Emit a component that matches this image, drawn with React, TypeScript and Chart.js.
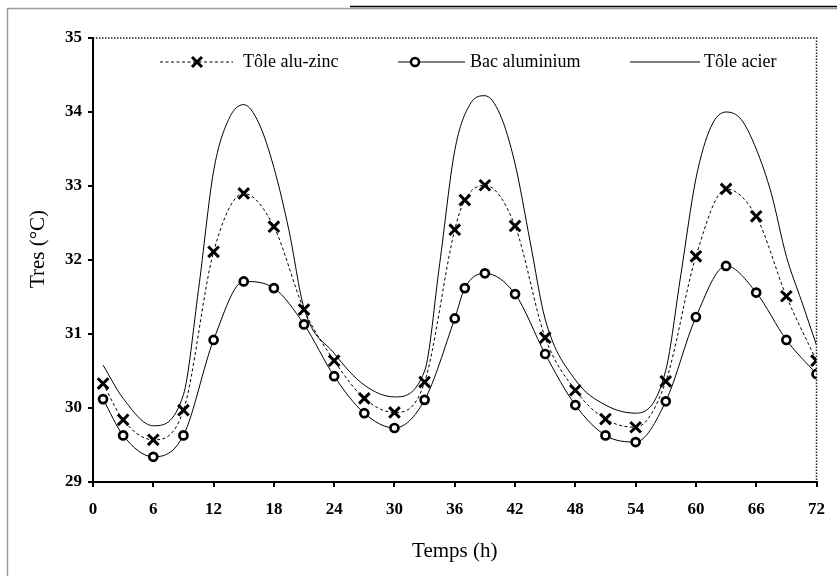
import React, { useEffect, useRef } from 'react';
import { Chart, registerables } from 'chart.js';

Chart.register(...registerables);

// ---- data ----
const markedHours = [1, 3, 6, 9, 12, 15, 18, 21, 24, 27, 30, 33, 36, 37, 39, 42, 45, 48, 51, 54, 57, 60, 63, 66, 69, 72];
const aluZinc = [30.33, 29.84, 29.57, 29.97, 32.11, 32.9, 32.45, 31.33, 30.64, 30.13, 29.94, 30.35, 32.41, 32.81, 33.01, 32.46, 30.95, 30.24, 29.85, 29.74, 30.36, 32.05, 32.96, 32.59, 31.51, 30.64];
const bacAlu = [30.12, 29.63, 29.34, 29.63, 30.92, 31.71, 31.62, 31.13, 30.43, 29.93, 29.73, 30.11, 31.21, 31.62, 31.82, 31.54, 30.73, 30.04, 29.63, 29.54, 30.09, 31.23, 31.92, 31.56, 30.92, 30.46];
const acierHours = [1, 3, 6, 9, 10.5, 12, 13.5, 15, 16.5, 18, 19.5, 21, 24, 27, 30, 33, 34.5, 36, 37.5, 39, 40.5, 42, 43.5, 45, 48, 51, 54, 57, 58.5, 60, 61.5, 63, 64.5, 66, 67.5, 69, 70.5, 72];
const acier = [30.58, 30.13, 29.76, 30.18, 31.6, 33.2, 33.9, 34.1, 33.85, 33.25, 32.4, 31.35, 30.74, 30.31, 30.15, 30.5, 31.95, 33.48, 34.1, 34.22, 33.97, 33.3, 32.25, 31.2, 30.38, 30.04, 29.93, 30.51, 31.8, 33.1, 33.8, 34.0, 33.9, 33.5, 32.9, 32.05, 31.45, 30.85];

const seriesNames = ['Tôle alu-zinc', 'Bac aluminium', 'Tôle acier'];
const xTitle = 'Temps (h)';
const yTitle = 'Tres (°C)';
const xMin = 0;
const xMax = 72;
const xStep = 6;
const yMin = 29;
const yMax = 35;
const yStep = 1;

const FONT = '"Liberation Serif", "Times New Roman", serif';

const drawX = (ctx: CanvasRenderingContext2D, x: number, y: number, h: number) => {
  ctx.beginPath();
  ctx.moveTo(x - h, y - h);
  ctx.lineTo(x + h, y + h);
  ctx.moveTo(x + h, y - h);
  ctx.lineTo(x - h, y + h);
  ctx.stroke();
};

const decorPlugin = {
  id: 'decor',
  beforeDraw(chart: any) {
    const { ctx, width, height } = chart;
    ctx.save();
    ctx.fillStyle = '#fff';
    ctx.fillRect(0, 0, width, height);
    // outer frame (page figure box)
    ctx.strokeStyle = '#9a9a9a';
    ctx.lineWidth = 1.5;
    ctx.beginPath();
    ctx.moveTo(7.5, height);
    ctx.lineTo(7.5, 8.5);
    ctx.lineTo(width, 8.5);
    ctx.stroke();
    ctx.strokeStyle = '#000';
    ctx.lineWidth = 1.5;
    ctx.beginPath();
    ctx.moveTo(350, 6.5);
    ctx.lineTo(width, 6.5);
    ctx.stroke();
    ctx.restore();
  },
  afterDraw(chart: any) {
    const { ctx, chartArea } = chart;
    const { left, right, top, bottom } = chartArea;
    ctx.save();
    // dotted plot-area border (top and right)
    ctx.strokeStyle = '#222';
    ctx.lineWidth = 1.5;
    ctx.setLineDash([1.5, 1.5]);
    ctx.beginPath();
    ctx.moveTo(left, top);
    ctx.lineTo(right, top);
    ctx.lineTo(right, bottom);
    ctx.stroke();
    ctx.setLineDash([]);

    // legend
    const ly = top + 24;
    ctx.font = `18px ${FONT}`;
    ctx.fillStyle = '#000';
    ctx.textBaseline = 'middle';
    ctx.textAlign = 'left';
    // item 1: dashed with X
    ctx.strokeStyle = '#000';
    ctx.lineWidth = 1;
    ctx.setLineDash([3, 2.5]);
    ctx.beginPath();
    ctx.moveTo(160, ly);
    ctx.lineTo(233, ly);
    ctx.stroke();
    ctx.setLineDash([]);
    ctx.lineWidth = 3;
    drawX(ctx, 197, ly, 5);
    ctx.fillText(seriesNames[0], 243, ly);
    // item 2: solid with circle
    ctx.lineWidth = 1;
    ctx.beginPath();
    ctx.moveTo(398, ly);
    ctx.lineTo(465, ly);
    ctx.stroke();
    ctx.beginPath();
    ctx.arc(415, ly, 4, 0, Math.PI * 2);
    ctx.fillStyle = '#fff';
    ctx.fill();
    ctx.lineWidth = 2.5;
    ctx.stroke();
    ctx.fillStyle = '#000';
    ctx.fillText(seriesNames[1], 470, ly);
    // item 3: plain solid
    ctx.lineWidth = 1;
    ctx.beginPath();
    ctx.moveTo(630, ly);
    ctx.lineTo(700, ly);
    ctx.stroke();
    ctx.fillText(seriesNames[2], 704, ly);

    // y axis title
    ctx.font = `21px ${FONT}`;
    ctx.textAlign = 'center';
    ctx.textBaseline = 'middle';
    ctx.translate(38, 249);
    ctx.rotate(-Math.PI / 2);
    ctx.fillText(yTitle, 0, 0);
    ctx.restore();
  },
};

export default function App() {
  const canvasRef = useRef<HTMLCanvasElement | null>(null);

  useEffect(() => {
    document.body.style.margin = '0';
    const canvas = canvasRef.current;
    if (!canvas) return;
    const chart = new Chart(canvas, {
      type: 'line',
      data: {
        datasets: [
          {
            label: seriesNames[0],
            data: markedHours.map((h, i) => ({ x: h, y: aluZinc[i] })),
            borderColor: '#000',
            borderWidth: 1,
            borderDash: [3, 2.5],
            pointStyle: 'crossRot',
            pointRadius: 7.5,
            pointBorderWidth: 3,
            pointBorderColor: '#000',
            pointBackgroundColor: '#000',
            cubicInterpolationMode: 'monotone',
            fill: false,
          },
          {
            label: seriesNames[1],
            data: markedHours.map((h, i) => ({ x: h, y: bacAlu[i] })),
            borderColor: '#000',
            borderWidth: 1,
            pointStyle: 'circle',
            pointRadius: 4,
            pointBorderWidth: 2.7,
            pointBorderColor: '#000',
            pointBackgroundColor: '#fff',
            cubicInterpolationMode: 'monotone',
            fill: false,
          },
          {
            label: seriesNames[2],
            data: acierHours.map((h, i) => ({ x: h, y: acier[i] })),
            borderColor: '#000',
            borderWidth: 1,
            pointRadius: 0,
            cubicInterpolationMode: 'monotone',
            fill: false,
          },
        ],
      },
      options: {
        animation: false,
        responsive: false,
        devicePixelRatio: 1,
        layout: { padding: { left: 0, right: 13, top: 38, bottom: 0 } },
        plugins: {
          legend: { display: false },
          tooltip: { enabled: false },
          title: { display: false },
        },
        scales: {
          x: {
            type: 'linear',
            min: xMin,
            max: xMax,
            ticks: {
              stepSize: xStep,
              color: '#000',
              padding: 12,
              font: { family: FONT, size: 17, weight: 'bold' },
              maxRotation: 0,
            },
            grid: {
              drawOnChartArea: false,
              drawTicks: true,
              tickLength: 5,
              color: '#000',
              lineWidth: 2,
            },
            border: { display: true, color: '#000', width: 2 },
            title: {
              display: true,
              text: xTitle,
              color: '#000',
              font: { family: FONT, size: 21 },
              padding: { top: 0, bottom: 12 },
            },
            afterFit: (s: any) => {
              s.height = 94;
            },
          },
          y: {
            type: 'linear',
            min: yMin,
            max: yMax,
            ticks: {
              stepSize: yStep,
              color: '#000',
              padding: 6,
              font: { family: FONT, size: 17, weight: 'bold' },
            },
            grid: {
              drawOnChartArea: false,
              drawTicks: true,
              tickLength: 5,
              color: '#000',
              lineWidth: 2,
            },
            border: { display: true, color: '#000', width: 2 },
            afterFit: (s: any) => {
              s.width = 93;
            },
          },
        },
      },
      plugins: [decorPlugin],
    } as any);
    return () => chart.destroy();
  }, []);

  return (
    <div style={{ width: 837, height: 576 }}>
      <canvas ref={canvasRef} width={837} height={576} style={{ display: 'block', width: 837, height: 576 }} />
    </div>
  );
}
